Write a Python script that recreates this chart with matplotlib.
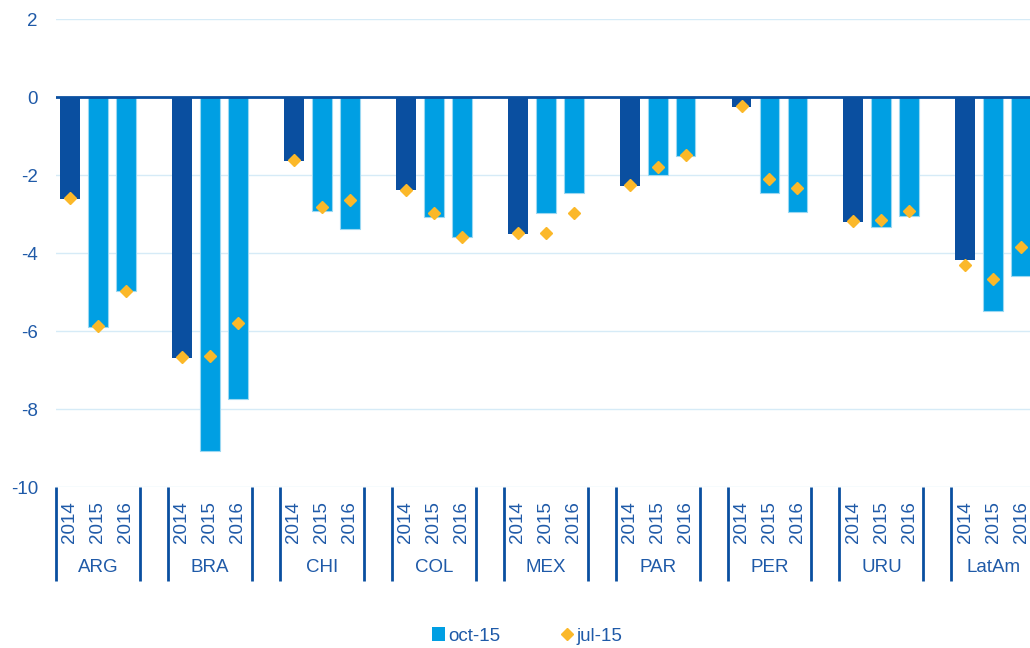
import matplotlib
matplotlib.use("Agg")
import matplotlib.pyplot as plt
from matplotlib.patches import Patch
from matplotlib.lines import Line2D
import matplotlib.transforms as mtransforms

plt.rcParams['font.family'] = ['Liberation Sans', 'DejaVu Sans']

countries = ["ARG", "BRA", "CHI", "COL", "MEX", "PAR", "PER", "URU", "LatAm"]
years = ["2014", "2015", "2016"]

# Fiscal balance, oct-15 forecast (bars) and jul-15 forecast (diamonds)
oct15 = [
    [-2.62, -5.90, -4.97],
    [-6.70, -9.08, -7.74],
    [-1.64, -2.92, -3.38],
    [-2.38, -3.08, -3.59],
    [-3.51, -2.97, -2.46],
    [-2.27, -2.00, -1.50],
    [-0.25, -2.45, -2.96],
    [-3.20, -3.33, -3.05],
    [-4.18, -5.49, -4.60],
]
jul15 = [
    [-2.60, -5.87, -4.97],
    [-6.67, -6.64, -5.80],
    [-1.62, -2.82, -2.64],
    [-2.38, -2.97, -3.59],
    [-3.49, -3.49, -2.97],
    [-2.26, -1.80, -1.49],
    [-0.24, -2.09, -2.33],
    [-3.18, -3.15, -2.92],
    [-4.32, -4.67, -3.85],
]
yticks = [2, 0, -2, -4, -6, -8, -10]

dark_blue = "#0a4fa0"
light_blue = "#009fe3"
edge_blue = "#9bd8f2"
gold = "#fbb829"
text_blue = "#1f5aa8"
grid_col = "#d6ebf7"

W, H = 1030, 648
fig = plt.figure(figsize=(W / 100, H / 100), dpi=100)
left_px, right_px = 56, 1035.3
top_px, bot_px = 19, 487
ax = fig.add_axes([left_px / W, (H - bot_px) / H,
                   (right_px - left_px) / W, (bot_px - top_px) / H])

group_step = len(years) + 1
bar_w = 0.71
for gi, c in enumerate(countries):
    base = gi * group_step
    for yi in range(len(years)):
        x = base + yi
        col = dark_blue if yi == 0 else light_blue
        ec = "none" if yi == 0 else edge_blue
        ax.bar(x, oct15[gi][yi], width=bar_w, color=col, edgecolor=ec,
               linewidth=0.8, zorder=2)
        ax.plot(x, jul15[gi][yi], marker="D", markersize=6.5,
                color=gold, linestyle="none", zorder=4)

n_slots = len(countries) * group_step - 1
ax.set_xlim(-0.5, n_slots - 0.5)
ax.set_ylim(-10, 2)

for v in yticks:
    if v == 0:
        ax.axhline(0, color=dark_blue, linewidth=2.0, zorder=3)
    else:
        ax.axhline(v, color=grid_col, linewidth=1.0, zorder=1)

for s in ax.spines.values():
    s.set_visible(False)
ax.set_yticks(yticks)
ax.set_yticklabels([str(v) for v in yticks], fontsize=13.5, color=text_blue)
ax.tick_params(axis="y", length=0, pad=13)
ax.set_xticks([])

trans = mtransforms.blended_transform_factory(ax.transData, ax.transAxes)
ax_h = bot_px - top_px
year_y = -35 / ax_h
name_y = -81 / ax_h
sep_bottom = -94 / ax_h
for gi, c in enumerate(countries):
    base = gi * group_step
    for yi, yr in enumerate(years):
        ax.text(base + yi, year_y, yr, rotation=90, ha="center", va="center",
                fontsize=13.5, color=text_blue, transform=trans)
    ax.text(base + 1, name_y, c, ha="center", va="center",
            fontsize=13.5, color=text_blue, transform=trans)
    for xs in (base - 0.5, base + len(years) - 0.5):
        ax.plot([xs, xs], [0, sep_bottom], color=dark_blue, linewidth=2.0,
                transform=trans, clip_on=False, solid_capstyle="butt")

handles = [
    Patch(facecolor=light_blue, edgecolor="none", label="oct-15"),
    Line2D([], [], marker="D", color=gold, linestyle="none",
           markersize=6, label="jul-15"),
]
fig.legend(handles=handles, loc="center", bbox_to_anchor=(527 / W, 1 - 636 / H),
           ncol=2, frameon=False, fontsize=13.5, labelcolor=text_blue,
           handlelength=0.7, handleheight=0.7, handletextpad=0.15,
           columnspacing=3.2)

fig.savefig("out.png", dpi=100)
